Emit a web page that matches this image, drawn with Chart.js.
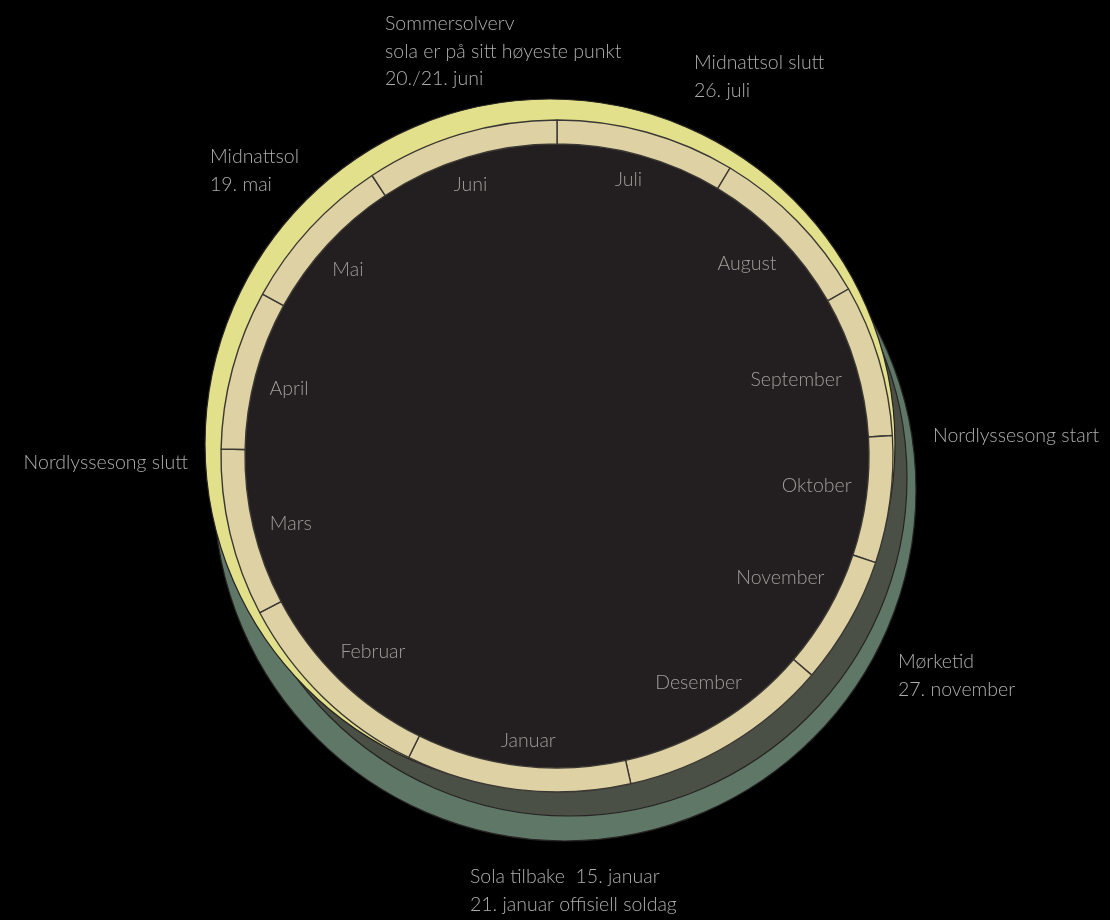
<!DOCTYPE html>
<html>
<head>
<meta charset="utf-8">
<script src="https://cdn.jsdelivr.net/npm/chart.js@4"></script>
<style>
  html, body { margin: 0; padding: 0; background: #000; }
  #wrap { position: relative; width: 1110px; height: 920px; overflow: hidden; background: #000; }
  #wrap canvas { position: absolute; }
</style>
</head>
<body>
<div id="wrap"></div>
<script>
// months, clockwise from the top (Juli starts at 12 o'clock)
var months = ["Juli", "August", "September", "Oktober", "November", "Desember",
              "Januar", "Februar", "Mars", "April", "Mai", "Juni"];
// arc share of each month in the wheel (degrees)
var monthDegrees = [31.0, 29.2, 26.3, 22.0, 22.2, 36.6, 38.9, 36.0, 29.0, 27.6, 27.8, 33.4];

// season discs behind the wheel
var seasons = ["Mørketid ytre", "Mørketid", "Lys tid"];
var seasonColors = ["#5e7767", "#4b5047", "#e2e08a"];

// notes around the wheel
var noteTexts = [
  ["Sommersolverv", "sola er på sitt høyeste punkt", "20./21. juni"],
  ["Midnattsol slutt", "26. juli"],
  ["Midnattsol", "19. mai"],
  ["Nordlyssesong start"],
  ["Nordlyssesong slutt"],
  ["Mørketid", "27. november"],
  ["Sola tilbake  15. januar", "21. januar offisiell soldag"]
];

// layout (pixels): disc centres/radii and note anchors
var discLayout = [
  { cx: 565, cy: 490, r: 351, rot: 315 },
  { cx: 569, cy: 478, r: 338, rot: 315 },
  { cx: 550, cy: 444, r: 345, rot: 135 }
];
var wheel = { cx: 557, cy: 456, r: 336, ring: 24 };
var noteLayout = [
  { x: 385, y: 24, align: "left" }, { x: 694, y: 63, align: "left" }, { x: 210, y: 157, align: "left" },
  { x: 933, y: 436, align: "left" }, { x: 188, y: 463, align: "right" }, { x: 898, y: 662, align: "left" },
  { x: 470, y: 877, align: "left" }
];
var W = 1110, H = 920;
var FONT = "300 19.5px Lato, 'Open Sans', sans-serif";

var wrap = document.getElementById("wrap");

function makeCanvas(left, top, w, h) {
  var c = document.createElement("canvas");
  c.width = w; c.height = h;
  c.style.width = w + "px"; c.style.height = h + "px";
  c.style.left = left + "px"; c.style.top = top + "px";
  wrap.appendChild(c);
  return c;
}

var baseOpts = {
  responsive: false,
  animation: false,
  events: [],
  plugins: { legend: { display: false }, tooltip: { enabled: false } },
  layout: { padding: 0 }
};

// season discs
discLayout.forEach(function (d, i) {
  var size = 2 * d.r + 10;
  var c = makeCanvas(d.cx - size / 2, d.cy - size / 2, size, size);
  new Chart(c.getContext("2d"), {
    type: "pie",
    data: {
      labels: [seasons[i]],
      datasets: [{ data: [1], backgroundColor: seasonColors[i], borderColor: "#262322", borderWidth: 1.2 }]
    },
    options: Object.assign({}, baseOpts, { radius: d.r, rotation: d.rot })
  });
});

// month labels inside the dark face, near the middle of each month arc
var monthLabels = {
  id: "monthLabels",
  afterDatasetsDraw: function (chart) {
    var ctx = chart.ctx;
    var meta = chart.getDatasetMeta(0);
    ctx.save();
    ctx.font = FONT;
    ctx.fillStyle = "#a09d9b";
    ctx.textAlign = "center";
    ctx.textBaseline = "middle";
    meta.data.forEach(function (arc, i) {
      var mid = (arc.startAngle + arc.endAngle) / 2 - Math.PI / 180;
      var w = ctx.measureText(months[i]).width;
      var h = 16;
      var ext = Math.abs(Math.cos(mid)) * w / 2 + Math.abs(Math.sin(mid)) * h / 2;
      var r = arc.innerRadius - 15 - ext;
      ctx.fillText(months[i], arc.x + Math.cos(mid) * r, arc.y + Math.sin(mid) * r);
    });
    ctx.restore();
  }
};

// notes outside the wheel
var notes = {
  id: "notes",
  afterDraw: function (chart) {
    var ctx = chart.ctx;
    ctx.save();
    ctx.font = FONT;
    ctx.fillStyle = "#aeaeae";
    ctx.textBaseline = "middle";
    noteTexts.forEach(function (lines, i) {
      ctx.textAlign = noteLayout[i].align;
      lines.forEach(function (t, j) {
        ctx.fillText(t, noteLayout[i].x, noteLayout[i].y + j * 27.5);
      });
    });
    ctx.restore();
  }
};

var wc = makeCanvas(0, 0, W, H);
new Chart(wc.getContext("2d"), {
  type: "pie",
  data: {
    labels: months,
    datasets: [
      { data: monthDegrees, backgroundColor: "#ded2a4", borderColor: "#3b3733", borderWidth: 1.4, weight: wheel.ring },
      { data: [1], backgroundColor: "#231f20", borderWidth: 0, weight: wheel.r - wheel.ring }
    ]
  },
  options: Object.assign({}, baseOpts, {
    radius: wheel.r,
    layout: { padding: { left: 2 * wheel.cx - W, right: 0, top: 0, bottom: H - 2 * wheel.cy } }
  }),
  plugins: [monthLabels, notes]
});
</script>
</body>
</html>
